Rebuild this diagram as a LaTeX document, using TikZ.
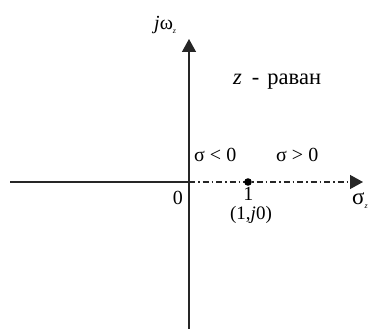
\documentclass[tikz,border=0pt]{standalone}
\usepackage{fontspec}
\setmainfont{Liberation Serif}
\usetikzlibrary{arrows.meta}
\begin{document}
\begin{tikzpicture}[x=1pt,y=-1pt,
  axis/.style={line width=1.4pt,draw=black!85},
  tip/.style={-{Triangle[length=13pt,width=14pt]}},
  dashdot/.style={dash pattern=on 6pt off 3pt on 1.5pt off 3pt},
  lbl/.style={inner sep=0pt,font=\fontsize{20}{22}\selectfont}]
\useasboundingbox (0,0) rectangle (376,329);
\coordinate (L) at (10,182);
\coordinate (O) at (189,182);
\coordinate (R) at (363,182);
\coordinate (B) at (189,329);
\coordinate (T) at (189,39);
\draw[axis] (L) -- (O);
\draw[axis,dashdot,tip] (O) -- (R);
\draw[axis,tip] (B) -- (T);
\fill[black] (248,182) circle (3.8pt) node (dot) {};
\node[lbl,anchor=base west] (jw) at (154,30) {\textit{j}ω\raisebox{-4pt}{\fontsize{8}{8}\selectfont\textit{z}}};
\node[lbl,anchor=base west,font=\fontsize{22.5}{24}\selectfont] (zr) at (233,85) {\textit{z}\hspace{10pt}-\hspace{8pt}раван};
\node[lbl,anchor=base west] (sl) at (194,162) {σ < 0};
\node[lbl,anchor=base west] (sg) at (276,162) {σ > 0};
\node[lbl,anchor=base east] (zero) at (183,205) {0};
\node[lbl,anchor=base] (one) at (248.5,201) {1};
\node[lbl,anchor=base,font=\fontsize{19}{21}\selectfont] (pt) at (251,220) {(1,\textit{j}0)};
\node[lbl,anchor=base west,font=\fontsize{23}{25}\selectfont] (sz) at (352,205) {σ\raisebox{-4pt}{\fontsize{8}{8}\selectfont\textit{z}}};
\end{tikzpicture}
\end{document}
